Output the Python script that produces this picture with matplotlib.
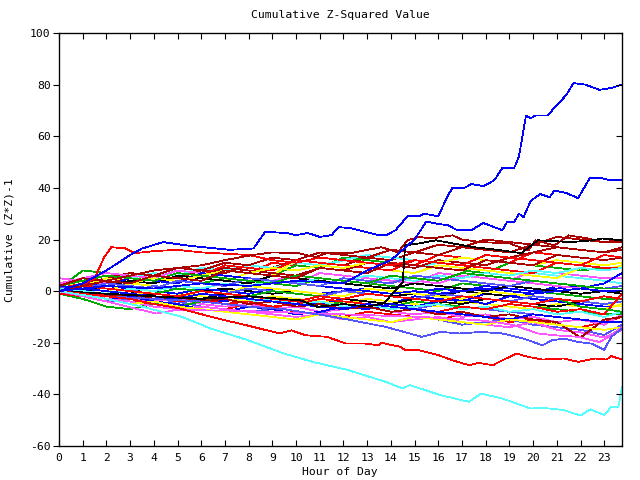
import matplotlib
matplotlib.use("Agg")
import matplotlib.pyplot as plt

# hourly grid used by most of the walks (last sample at 23:45)
hours = list(range(24)) + [23.75]

red_walks = [
    [2, 1, 4, 3, 6, 5, 9, 8, 7, 11, 10, 9, 13, 12, 11, 10, 14, 13, 12, 11, 15, 14, 13, 12, 13],
    [0, -1, -3, -4, -5, -4, -6, -7, -5, -6, -8, -9, -10, -8, -9, -10, -11, -9, -10, -12, -11, -13, -14, -12, -10],
    [1, 3, 2, 5, 4, 7, 6, 10, 9, 8, 12, 11, 10, 9, 8, 12, 11, 10, 9, 8, 7, 11, 10, 9, 9],
    [-1, -2, -1, -3, -2, -4, -3, -5, -4, -6, -5, -3, -4, -5, -6, -7, -8, -6, -7, -5, -6, -8, -7, -9, -1],
    [0, 2, 1, 0, -1, -2, 0, -1, -2, -3, -4, -2, -3, -1, -2, -3, -4, -2, -3, -4, -5, -3, -4, -2, -3],
]
green_walks = [
    [1, 8, 7, 6, 5, 4, 3, 5, 4, 3, 2, 5, 4, 3, 2, 1, 0, 3, 2, 1, 0, -1, -2, -3, -3],
    [3, 2, 4, 7, 6, 5, 4, 8, 7, 6, 10, 9, 13, 12, 11, 10, 9, 8, 7, 11, 10, 9, 8, 9, 9],
    [-1, -3, -6, -7, -5, -6, -4, -2, -3, -4, -5, -6, -4, -5, -6, -4, -5, -6, -7, -5, -6, -7, -8, -9, -9],
    [0, 2, 1, 0, -1, 1, 0, -1, -2, 0, -1, -2, -3, -1, -2, -3, -4, -2, -3, -4, -5, -3, -6, -7, -8],
    [2, 4, 6, 5, 4, 7, 6, 5, 4, 3, 6, 5, 4, 3, 6, 5, 4, 7, 6, 5, 4, 3, 2, 1, 1],
]
blue_walks = [
    [0, -1, -2, -3, -1, -2, -3, -4, -2, -3, -4, -5, -3, -4, -5, -2, -3, -4, -1, -2, -3, -4, -5, -6, -6],
    [1, 0, 2, 1, 0, -1, 1, 0, -1, 1, 0, -1, 0, 1, 0, -1, 1, 0, 2, 1, 0, 1, 2, 1, 1],
    [0, -1, -3, -2, -4, -5, -7, -8, -6, -7, -9, -8, -6, -7, -5, -6, -4, -3, -5, -2, -1, 2, 1, 3, 7],
    [0, 3, 2, 5, 4, 3, 7, 6, 5, 4, 3, 2, 1, 0, -1, 0, -1, 0, 1, 0, -1, 0, 1, 0, 0],
    [2, 1, 0, -1, -2, -3, -1, -2, -3, -4, -5, -6, -7, -5, -6, -7, -8, -9, -10, -11, -9, -10, -11, -12, -12],
]
magenta_walks = [
    [5, 4, 3, 5, 4, 3, 7, 6, 5, 4, 3, 7, 6, 5, 4, 3, 7, 6, 5, 4, 8, 7, 6, 5, 5],
    [0, -1, -2, -3, -4, -3, -5, -6, -5, -7, -6, -8, -7, -6, -8, -9, -8, -10, -9, -11, -10, -12, -11, -13, -9],
    [3, 5, 7, 6, 5, 8, 7, 6, 5, 4, 6, 5, 4, 3, 5, 4, 3, 6, 5, 4, 3, 2, 1, 0, -1],
    [0, -1, -3, -4, -6, -7, -6, -7, -8, -9, -10, -9, -11, -10, -12, -11, -10, -12, -13, -14, -12, -15, -16, -18, -15],
]
cyan_walks = [
    [1, 0, 3, 2, 6, 5, 4, 8, 7, 6, 10, 9, 12, 11, 10, 9, 11, 10, 9, 8, 7, 6, 5, 4, 3],
    [2, 4, 6, 5, 7, 6, 9, 8, 10, 9, 11, 10, 12, 14, 13, 12, 11, 13, 12, 11, 10, 12, 11, 10, 11],
    [0, -1, -2, -3, -2, -4, -3, -5, -4, -3, -5, -4, -6, -5, -7, -6, -5, -7, -6, -8, -7, -9, -8, -10, -8],
    [1, 0, -1, 1, 0, 2, 1, 3, 2, 4, 3, 5, 4, 6, 5, 4, 6, 5, 7, 6, 8, 7, 9, 8, 9],
]
darkred_walks = [
    [0, 2, 4, 3, 6, 5, 8, 7, 10, 9, 12, 11, 10, 13, 12, 15, 14, 17, 16, 15, 18, 17, 16, 15, 17],
    [1, 3, 5, 7, 6, 9, 8, 11, 10, 13, 12, 15, 14, 13, 16, 15, 18, 17, 20, 19, 18, 21, 20, 19, 20],
    [0, 1, 3, 5, 4, 7, 6, 9, 8, 7, 6, 9, 8, 11, 10, 9, 12, 11, 10, 13, 15, 17, 16, 15, 16],
    [0, -1, -2, -1, -3, -2, -4, -3, -5, -4, -6, -5, -7, -6, -8, -7, -9, -8, -10, -9, -11, -12, -18, -11, -10],
    [2, 5, 4, 3, 6, 5, 4, 8, 7, 6, 5, 9, 8, 7, 11, 10, 9, 8, 12, 11, 10, 14, 13, 12, 13],
]
yellow_walks = [
    [1, 0, -1, -2, 0, -1, -2, -3, -4, -2, -3, -4, -5, -3, -4, -5, -6, -4, -5, -6, -7, -5, -6, -7, -5],
    [3, 2, 5, 4, 3, 6, 5, 4, 7, 6, 12, 11, 10, 9, 8, 7, 10, 9, 8, 7, 6, 5, 9, 8, 10],
    [2, 1, 0, 3, 2, 1, 0, -1, 2, 1, 0, -1, -2, 1, 0, -1, -2, -3, 0, -1, -2, -3, -4, -5, -6],
    [0, 2, 4, 3, 5, 4, 6, 8, 7, 9, 8, 10, 9, 11, 10, 12, 11, 13, 12, 11, 10, 12, 11, 10, 11],
    [0, -2, -3, -5, -4, -6, -7, -8, -9, -10, -11, -9, -10, -11, -12, -10, -11, -12, -13, -11, -12, -13, -14, -15, -14],
]
black_walks = [
    [0, 1, 0, -1, 2, 1, 0, 1, 0, -1, 0, -1, 0, -1, -2, -1, -2, 0, -1, -2, -1, 0, 1, 0, 0],
    [1, 0, -1, -2, -1, -2, -3, -1, -2, -3, -4, -2, -3, -4, -5, -3, -4, -5, -3, -4, -5, -6, -4, -5, -6],
    [0, -1, 2, 4, 3, 6, 5, 4, 3, 6, 5, 4, 3, 2, 1, 3, 2, 1, 0, 2, 1, 0, -1, 0, -1],
]
slate_walks = [
    [0, -1, -2, -1, -2, -3, -4, -2, -3, -4, -5, -3, -4, -5, -6, -7, -5, -6, -7, -8, -9, -10, -11, -12, -12],
    [0, -2, -4, -3, -5, -4, -6, -7, -8, -7, -9, -8, -10, -11, -12, -10, -11, -13, -12, -11, -13, -14, -15, -17, -13],
    [1, 2, 1, 0, 2, 1, 0, -1, 1, 0, -1, -2, 0, -1, -2, -3, -1, -2, -3, -4, -2, -3, -4, -5, -4],
    [0, 1, 3, 2, 1, 4, 3, 2, 5, 4, 3, 2, 5, 4, 3, 6, 5, 4, 3, 2, 4, 3, 2, 1, 2],
]

# the walks that stand out, read at their own time points
top_blue_x = [0, 1, 2, 3, 3.5, 4.4, 5.3, 6.1, 7.2, 8.2, 8.7, 9.6, 10.0, 10.5, 11.0, 11.5, 11.8, 12.3,
              12.9, 13.5, 13.8, 14.2, 14.7, 15.2, 15.4, 16.0, 16.4, 16.6, 17.1, 17.4, 17.9, 18.2, 18.4,
              18.7, 19.2, 19.4, 19.7, 19.9, 20.1, 20.6, 21.2, 21.4, 21.7, 22.2, 22.8, 23.3, 23.75]
top_blue_y = [0, 3, 8, 14, 16.5, 19, 17.8, 17, 16, 16.5, 23, 22.5, 21.7, 22.5, 21, 21.7, 24.8, 24.4,
              23, 21.7, 21.7, 23.6, 29, 29, 30, 29, 37, 40, 40, 41.5, 40.7, 42, 43.4,
              47.7, 47.7, 52, 68, 67, 68, 68, 74, 76, 80.6, 80, 78, 78.7, 80]

second_blue_x = [0, 2, 4, 6, 8, 10, 12, 13, 14, 15, 15.5, 16.0, 16.4, 16.8, 17.4, 17.9, 18.7, 18.9, 19.2,
                 19.4, 19.6, 19.9, 20.3, 20.7, 20.9, 21.4, 21.9, 22.4, 22.9, 23.2, 23.75]
second_blue_y = [0, 2, 1, 3, 2, 4, 3, 8, 12, 20, 27, 26, 25.6, 23.6, 23.6, 26.4, 23.6, 26.7, 26.7,
                 30, 28.7, 35, 37.6, 36.4, 39, 38, 36, 44, 43.8, 43, 43]

low_cyan_x = [0, 1, 2, 3.5, 5.2, 6.4, 7.9, 9.5, 10.7, 12.2, 13.8, 14.5, 14.8, 16.1, 17.3, 17.8, 18.7,
              19.9, 20.4, 21.3, 22.0, 22.4, 23.0, 23.3, 23.6, 23.75]
low_cyan_y = [0, -1.5, -3, -6, -10, -14.5, -18.8, -24.2, -27.4, -30.6, -35.2, -37.7, -36.4, -40.3, -42.9,
              -39.7, -41.6, -45.5, -45.2, -46.1, -48.2, -45.8, -48, -44.8, -44.8, -37]

low_red_x = [0, 1, 2, 3, 4, 5, 5.9, 7.0, 7.9, 9.3, 9.8, 10.4, 11.3, 12.1, 12.9, 13.5, 13.6, 14.4, 14.6,
             15.2, 16.0, 16.6, 17.3, 17.7, 18.3, 18.7, 19.3, 19.8, 20.4, 21.3, 21.9, 22.6, 23.1, 23.3, 23.75]
low_red_y = [0, -1, -2, -3, -5, -6.5, -8.7, -11.3, -13.2, -16.4, -15.2, -17.1, -17.7, -20.3, -20.3, -21, -20,
             -21.6, -22.9, -22.9, -24.8, -26.8, -28.7, -27.8, -28.7, -26.8, -24.2, -25.5, -26.5, -26.1,
             -27.4, -26.1, -26.5, -25.2, -26.5]

low_slate_x = [0, 2, 4, 6, 8, 9.5, 10.7, 11.6, 12.7, 13.8, 15.3, 16.1, 16.9, 17.8, 18.7, 19.6, 20.4,
               20.8, 21.3, 21.9, 22.5, 23.0, 23.3, 23.75]
low_slate_y = [0, -2, -3, -4, -6, -7, -8.7, -10, -11.9, -13.9, -17.7, -15.8, -16.4, -15.8, -16.4, -18.4,
               -21, -19, -18.4, -19.7, -20.4, -22.7, -17.7, -14.5]

low_magenta_x = [0, 2, 4.1, 4.9, 7, 9.2, 12, 15.3, 17.7, 18.4, 19.2, 20.2, 20.9, 21.9, 22.8, 23.2, 23.75]
low_magenta_y = [0, -4, -8.7, -7.4, -7.5, -8.1, -9, -10, -11.3, -12, -13.2, -16.4, -17.1, -17.7, -19.7,
                 -17.7, -14]

top_darkred_x = [0, 1, 2, 3, 4, 5, 6, 7, 8.1, 9, 10.1, 10.8, 11.4, 12.3, 12.9, 13.6, 14.3, 14.7, 15.2,
                 15.7, 16.6, 17.0, 17.8, 19.0, 19.8, 20.1, 20.9, 21.5, 22.3, 22.9, 23.75]
top_darkred_y = [0, 2, 4, 6, 8, 9, 10, 12, 13.9, 15, 14.7, 13.2, 15, 14.7, 15.8, 17, 15, 19.7, 21,
                 20.4, 21.6, 20, 19, 18.5, 15.8, 19.7, 17.7, 21.6, 20.4, 19, 19]

top_red_x = [0, 1, 1.5, 1.9, 2.2, 2.8, 3.2, 4, 5, 6, 7, 8, 9, 10, 11, 12, 13, 14, 15, 16, 17, 18, 19,
             20, 21, 22, 23, 23.75]
top_red_y = [0, 2, 5, 13, 17, 16.6, 14.7, 15.5, 16, 15, 14.5, 14, 12, 11, 13, 12, 11, 10, 12, 11, 10,
             14, 13, 12, 11, 10, 14, 13]

jump_black_x = [0, 2, 4, 6, 8, 10.2, 10.9, 12, 13.0, 13.7, 14.5, 14.6, 15.2, 15.9, 16.6, 17.5, 18.5,
                19.5, 20.2, 21.6, 22.5, 22.9, 23.75]
jump_black_y = [0, -1, -2, -3, -2, -3.6, -6.1, -5, -6, -4.7, 3.4, 17.7, 18.5, 19.7, 18.5, 17, 16,
                14.7, 19.7, 19, 19.7, 20.4, 19.7]

colors = {
    "red": "#ff0000", "green": "#00aa00", "blue": "#0000ff", "magenta": "#ff55ff",
    "cyan": "#55ffff", "darkred": "#aa0000", "yellow": "#ffff00", "black": "#000000",
    "slate": "#5555ff",
}

fig = plt.figure(figsize=(6.4, 4.8), dpi=100)
ax = fig.add_axes([59 / 640, 34 / 480, 563 / 640, 413 / 480])

groups = [("red", red_walks), ("green", green_walks), ("blue", blue_walks),
          ("magenta", magenta_walks), ("cyan", cyan_walks), ("darkred", darkred_walks),
          ("yellow", yellow_walks), ("black", black_walks), ("slate", slate_walks)]
n = max(len(g) for _, g in groups)
for i in range(n):
    for name, walks in groups:
        if i < len(walks):
            ax.plot(hours, walks[i], color=colors[name], lw=0.55, antialiased=False)

specials = [(top_red_x, top_red_y, "red"), (top_darkred_x, top_darkred_y, "darkred"),
            (jump_black_x, jump_black_y, "black"), (low_magenta_x, low_magenta_y, "magenta"),
            (low_slate_x, low_slate_y, "slate"), (low_red_x, low_red_y, "red"),
            (low_cyan_x, low_cyan_y, "cyan"), (second_blue_x, second_blue_y, "blue"),
            (top_blue_x, top_blue_y, "blue")]
for xs, ys, name in specials:
    ax.plot(xs, ys, color=colors[name], lw=0.55, antialiased=False)

font = dict(family="DejaVu Sans Mono", size=8.2)
ax.set_xlim(0, 23.75)
ax.set_ylim(-60, 100)
ax.set_xticks(range(24))
ax.set_xticklabels([str(h) for h in range(24)], **font)
ax.set_yticks(range(-60, 101, 20))
ax.set_yticklabels([str(v) for v in range(-60, 101, 20)], **font)
ax.tick_params(axis="x", direction="in", top=True, length=4, width=0.8, pad=5)
ax.tick_params(axis="y", direction="out", length=4, width=0.8, pad=2)
for s in ax.spines.values():
    s.set_linewidth(0.9)

ax2 = ax.twinx()
ax2.set_ylim(-60, 100)
ax2.set_yticks(range(-60, 101, 20))
ax2.set_yticklabels([])
ax2.tick_params(axis="y", direction="in", length=4, width=0.8)

fig.text(340 / 640, 1 - 15 / 480, "Cumulative Z-Squared Value", ha="center", va="center", **font)
fig.text(340 / 640, 1 - 472 / 480, "Hour of Day", ha="center", va="center", **font)
fig.text(10 / 640, 1 - 240 / 480, "Cumulative (Z*Z)-1", ha="center", va="center", rotation=90, **font)

fig.savefig("out.png", dpi=100)
